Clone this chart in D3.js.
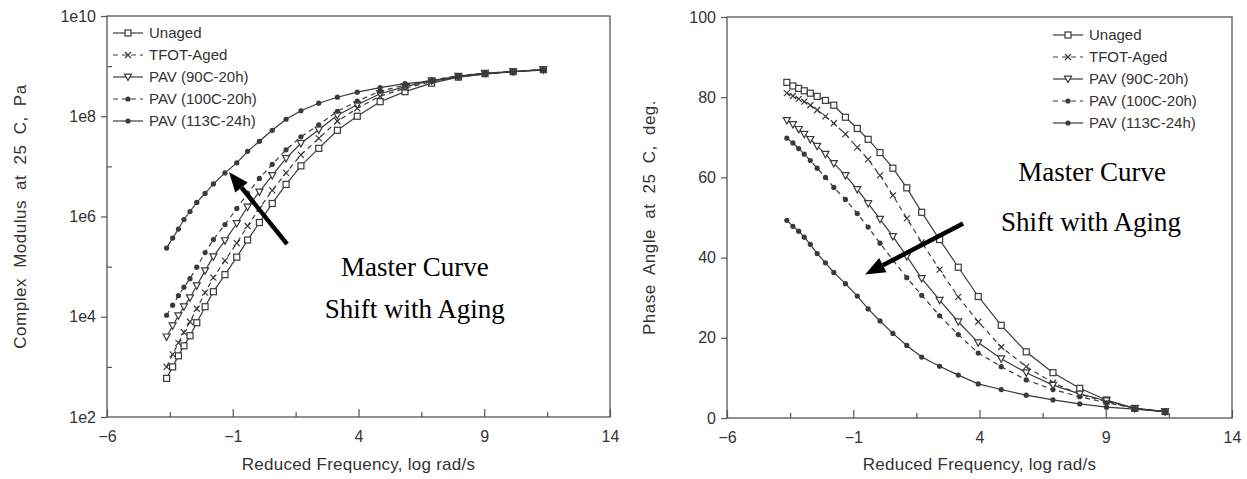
<!DOCTYPE html>
<html><head><meta charset="utf-8">
<script src="https://cdn.jsdelivr.net/npm/d3@7"></script>
<style>body{margin:0;background:#fff}svg{display:block}</style>
</head><body>
<svg id="chart" width="1247" height="479"></svg>
<script>
// ---------------- data ----------------
const freq = [-3.63,-3.39,-3.16,-2.94,-2.70,-2.43,-2.10,-1.77,-1.31,-0.84,-0.41,0.06,0.57,1.12,1.71,2.42,3.16,3.95,4.86,5.85,6.91,7.97,9.03,10.15,11.35];
const seriesNames = ["Unaged","TFOT-Aged","PAV (90C-20h)","PAV (100C-20h)","PAV (113C-24h)"];

// log10 of complex modulus (Pa)
const modUnaged = [2.77,3.00,3.22,3.42,3.62,3.88,4.20,4.50,4.84,5.19,5.53,5.88,6.26,6.64,7.01,7.36,7.72,8.00,8.29,8.49,8.66,8.78,8.85,8.89,8.93];
const modTFOT   = [3.00,3.25,3.48,3.69,3.90,4.16,4.48,4.78,5.12,5.47,5.81,6.16,6.52,6.87,7.23,7.56,7.90,8.16,8.40,8.56,8.69,8.79,8.85,8.89,8.93];
const modPAV90  = [3.60,3.82,4.02,4.20,4.38,4.62,4.92,5.20,5.52,5.86,6.19,6.49,6.82,7.16,7.46,7.73,8.02,8.23,8.45,8.59,8.71,8.80,8.86,8.89,8.93];
const modPAV100 = [4.03,4.23,4.42,4.59,4.76,4.99,5.28,5.54,5.84,6.16,6.46,6.76,7.04,7.33,7.59,7.83,8.10,8.30,8.50,8.62,8.72,8.81,8.86,8.89,8.93];
const modPAV113 = [5.37,5.57,5.75,5.94,6.10,6.28,6.46,6.65,6.87,7.07,7.30,7.50,7.72,7.94,8.11,8.26,8.38,8.48,8.57,8.65,8.70,8.78,8.84,8.89,8.92];

// phase angle (deg)
const phUnaged = [83.7,82.8,82.2,81.6,81.0,80.2,79.2,78.0,75.0,72.2,69.5,66.2,62.3,57.4,51.3,44.5,37.6,30.3,23.1,16.5,11.3,7.4,4.5,2.4,1.6];
const phTFOT   = [81.0,80.3,79.6,78.9,78.0,76.8,75.2,73.5,70.8,67.5,64.5,60.5,55.5,49.8,43.8,37.0,30.2,24.0,17.7,12.8,8.8,5.9,4.1,2.4,1.6];
const phPAV90  = [74.2,73.2,72.0,70.8,69.5,67.8,65.8,63.5,60.5,57.0,53.5,49.6,45.3,40.3,34.8,29.4,24.0,18.8,14.8,11.3,8.2,6.0,4.3,2.4,1.6];
const phPAV100 = [69.8,68.6,67.2,65.8,64.2,62.3,60.0,57.5,54.5,51.0,47.6,43.6,39.4,35.0,30.6,25.5,20.8,16.2,12.8,9.5,7.1,5.3,3.8,2.4,1.6];
const phPAV113 = [49.3,47.8,46.6,45.1,43.3,41.0,38.7,36.3,33.5,30.4,27.2,24.2,21.1,18.1,15.2,12.9,10.7,8.5,7.1,5.7,4.5,3.5,2.7,2.2,1.6];

const xTickLabels = [-6,-1,4,9,14];
const xMinorTicks = [-3.5,1.5,6.5,11.5];
const modTickExp = [2,4,6,8,10];
const modMinorExp = [3,5,7,9];
const phaseTicks = [0,20,40,60,80,100];

// annotations in data coordinates
const leftArrow = {from:[1.16,5.45], to:[-1.15,6.89]};
const rightArrow = {from:[3.35,48.5], to:[-0.53,35.8]};
const leftNote = [[6.24,4.93,"Master Curve"],[6.24,4.09,"Shift with Aging"]];
const rightNote = [[8.46,60.7,"Master Curve"],[8.42,48.3,"Shift with Aging"]];

// ---------------- styles ----------------
const INK = "#3a3a3a";
const markerTypes = ["square","x","tri","dot","dot"];
const dashTypes = [null,"5,4",null,"5,4",null];
const SANS = "'Liberation Sans', Arial, sans-serif";

const svg = d3.select("#chart");

function drawMarker(sel, type){
  if(type==="square") sel.append("rect").attr("x",-3).attr("y",-3).attr("width",6).attr("height",6)
      .attr("fill","#fff").attr("stroke",INK).attr("stroke-width",1.2);
  else if(type==="x") sel.append("path").attr("d","M-3,-3L3,3M-3,3L3,-3").attr("stroke",INK).attr("stroke-width",1.2).attr("fill","none");
  else if(type==="tri") sel.append("path").attr("d","M-3.5,-2.8L3.5,-2.8L0,3.6Z").attr("fill","#fff").attr("stroke",INK).attr("stroke-width",1.2);
  else sel.append("circle").attr("r",2.6).attr("fill",INK);
}

function arrow(g, x1,y1,x2,y2){
  const a=Math.atan2(y2-y1,x2-x1), L=20, W=8;
  const bx=x2-L*Math.cos(a), by=y2-L*Math.sin(a);
  g.append("line").attr("x1",x1).attr("y1",y1).attr("x2",bx).attr("y2",by).attr("stroke","#000").attr("stroke-width",4.5);
  g.append("path").attr("d",`M${x2},${y2}L${bx+W*Math.sin(a)},${by-W*Math.cos(a)}L${bx-W*Math.sin(a)},${by+W*Math.cos(a)}Z`).attr("fill","#000");
}

function drawPanel(cfg){
  const g = svg.append("g");
  const x = d3.scaleLinear().domain([-6,14]).range([cfg.left,cfg.right]);
  const y = cfg.y;

  // box
  g.append("rect").attr("x",cfg.left).attr("y",cfg.top).attr("width",cfg.right-cfg.left).attr("height",cfg.bottom-cfg.top)
    .attr("fill","none").attr("stroke","#555").attr("stroke-width",1.3);

  // x axis: labelled ticks and minor ticks (inward)
  const xa = g.append("g").attr("transform",`translate(0,${cfg.bottom})`)
    .call(d3.axisBottom(x).tickValues(xTickLabels).tickSizeInner(-8).tickSizeOuter(0).tickPadding(14)
      .tickFormat(d=> d<0 ? "\u2212"+Math.abs(d) : String(d)));
  g.append("g").attr("transform",`translate(0,${cfg.bottom})`)
    .call(d3.axisBottom(x).tickValues(xMinorTicks).tickSizeInner(-5).tickSizeOuter(0).tickFormat(""));

  // y axis
  const ya = g.append("g").attr("transform",`translate(${cfg.left},0)`)
    .call(d3.axisLeft(y).tickValues(cfg.yTicks).tickSizeInner(6).tickSizeOuter(0).tickPadding(5).tickFormat(cfg.yFormat));
  if(cfg.yMinor) g.append("g").attr("transform",`translate(${cfg.left},0)`)
    .call(d3.axisLeft(y).tickValues(cfg.yMinor).tickSizeInner(-5).tickSizeOuter(0).tickFormat(""));

  g.selectAll(".domain").remove();
  g.selectAll(".tick line").attr("stroke","#555").attr("stroke-width",1.2);
  g.selectAll(".tick text").attr("font-family",SANS).attr("font-size",16).attr("fill","#333");

  // axis titles
  g.append("text").attr("x",(cfg.left+cfg.right)/2).attr("y",470).attr("text-anchor","middle")
    .attr("font-family",SANS).attr("font-size",17).attr("letter-spacing",0.25).attr("fill","#333").text("Reduced Frequency, log rad/s");
  g.append("text").attr("transform",`translate(${cfg.titleX},${(cfg.top+cfg.bottom)/2}) rotate(-90)`)
    .attr("text-anchor","middle").attr("font-family",SANS).attr("font-size",17).attr("letter-spacing",0.5)
    .attr("word-spacing",5).attr("fill","#333").text(cfg.yTitle);

  // series
  const line = d3.line().x(d=>x(d[0])).y(d=>y(d[1]));
  cfg.series.forEach((vals,i)=>{
    const pts = freq.map((f,j)=>[f, cfg.yValue(vals[j])]);
    g.append("path").datum(pts).attr("d",line).attr("fill","none").attr("stroke",INK).attr("stroke-width",1.2)
      .attr("stroke-dasharray",dashTypes[i]);
    g.append("g").selectAll("g").data(pts).join("g").attr("transform",d=>`translate(${x(d[0])},${y(d[1])})`)
      .each(function(){ drawMarker(d3.select(this), markerTypes[i]); });
  });

  // legend
  const lg = g.append("g");
  seriesNames.forEach((n,i)=>{
    const yy = cfg.legY + 22*i;
    lg.append("line").attr("x1",cfg.legX).attr("x2",cfg.legX+30).attr("y1",yy).attr("y2",yy)
      .attr("stroke",INK).attr("stroke-width",1.2).attr("stroke-dasharray",dashTypes[i]);
    drawMarker(lg.append("g").attr("transform",`translate(${cfg.legX+15},${yy})`), markerTypes[i]);
    lg.append("text").attr("x",cfg.legX+36).attr("y",yy).attr("dy","0.35em").attr("font-family",SANS)
      .attr("font-size",15).attr("fill","#333").text(n);
  });

  // annotations
  const a = cfg.arrow;
  arrow(g, x(a.from[0]), y(cfg.yValue(a.from[1])), x(a.to[0]), y(cfg.yValue(a.to[1])));
  cfg.notes.forEach(nt=>{
    g.append("text").attr("x",x(nt[0])).attr("y",y(cfg.yValue(nt[1]))).attr("text-anchor","middle")
      .attr("dominant-baseline","middle").attr("font-family","'Liberation Serif','Times New Roman',serif")
      .attr("font-size",27).attr("fill","#000").text(nt[2]);
  });
}

drawPanel({
  left:107, right:610, top:16, bottom:417,
  y: d3.scaleLog().domain([1e2,1e10]).range([417,16]),
  yValue: v=>Math.pow(10,v),
  yTicks: modTickExp.map(e=>Math.pow(10,e)),
  yMinor: modMinorExp.map(e=>Math.pow(10,e)),
  yFormat: d=>"1e"+Math.round(Math.log10(d)),
  yTitle: "Complex Modulus at 25 C, Pa", titleX: 26,
  series: [modUnaged,modTFOT,modPAV90,modPAV100,modPAV113],
  legX: 113, legY: 33,
  arrow: leftArrow, notes: leftNote
});

drawPanel({
  left:727, right:1232, top:17, bottom:418,
  y: d3.scaleLinear().domain([0,100]).range([418,17]),
  yValue: v=>v,
  yTicks: phaseTicks, yMinor: null,
  yFormat: d=>String(d),
  yTitle: "Phase Angle at 25 C, deg.", titleX: 655,
  series: [phUnaged,phTFOT,phPAV90,phPAV100,phPAV113],
  legX: 1053, legY: 35,
  arrow: rightArrow, notes: rightNote
});
</script>
</body></html>
